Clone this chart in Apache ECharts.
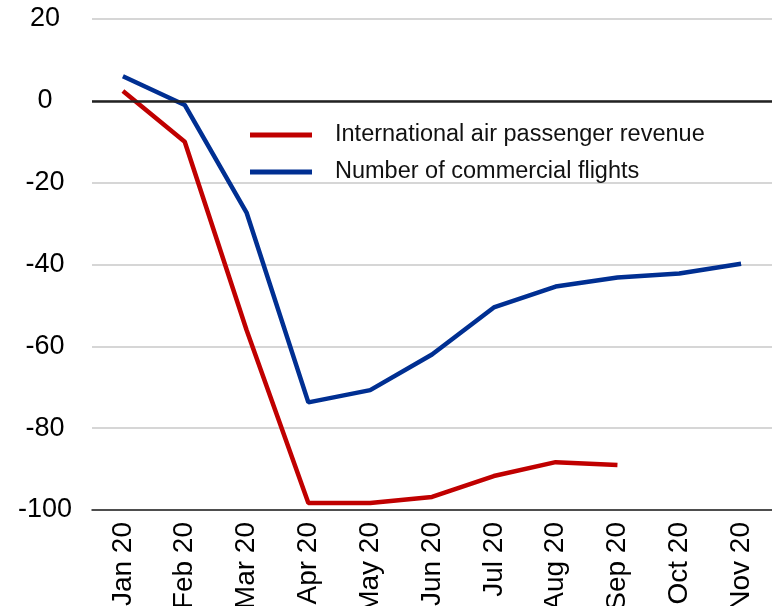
<!DOCTYPE html>
<html><head><meta charset="utf-8">
<script src="https://cdn.jsdelivr.net/npm/echarts@6/dist/echarts.min.js"></script>
<style>html,body{margin:0;padding:0;background:#fff}#c{width:772px;height:606px}</style>
</head><body><div id="c"></div>
<script>
var categories = ['Jan 20','Feb 20','Mar 20','Apr 20','May 20','Jun 20','Jul 20','Aug 20','Sep 20','Oct 20','Nov 20'];
var revenue = [2.4, -10, -56, -98.3, -98.3, -96.8, -91.7, -88.3, -89, null, null];
var flights = [6, -1, -27.3, -73.7, -70.7, -62, -50.5, -45.4, -43.2, -42.2, -39.8];
var seriesNames = ['International air passenger revenue', 'Number of commercial flights'];
var yMin = -100, yMax = 20, yStep = 20;

var chart = echarts.init(document.getElementById('c'));
chart.setOption({
  animation: false,
  textStyle: { fontFamily: 'Liberation Sans, Arial, sans-serif' },
  grid: { left: 92, right: 0, top: 19, bottom: 96, containLabel: false, outerBoundsMode: 'none' },
  legend: {
    orient: 'vertical', left: 245, top: 118, itemWidth: 62, itemHeight: 5, itemGap: 13,
    icon: 'rect',
    textStyle: { fontSize: 23.5, color: '#111', padding: [0, 0, 0, 18] },
    data: seriesNames
  },
  xAxis: {
    type: 'category', data: categories, boundaryGap: true,
    axisLine: { onZero: false, lineStyle: { color: '#222', width: 1.5 } },
    axisTick: { inside: true, length: 11, lineStyle: { color: '#222', width: 1 } },
    axisLabel: { rotate: 90, fontSize: 28, color: '#000', margin: 12 },
    splitLine: { show: false }
  },
  yAxis: {
    type: 'value', min: yMin, max: yMax, interval: yStep,
    axisLine: { show: false }, axisTick: { show: false },
    axisLabel: { fontSize: 27, color: '#000', margin: 47, align: 'center' },
    splitLine: { lineStyle: { color: '#c8c8c8', width: 1.5 } }
  },
  series: [
    { name: seriesNames[0], type: 'line', data: revenue, symbol: 'none',
      lineStyle: { color: '#c00000', width: 4.5 }, itemStyle: { color: '#c00000' },
      z: 3,
      markLine: { silent: true, symbol: 'none', label: { show: false },
        lineStyle: { color: '#222', width: 2.5, type: 'solid' }, data: [{ yAxis: 0 }] } },
    { name: seriesNames[1], type: 'line', data: flights, symbol: 'none',
      lineStyle: { color: '#002f92', width: 4.5 }, itemStyle: { color: '#002f92' }, z: 4 }
  ]
});
</script></body></html>
